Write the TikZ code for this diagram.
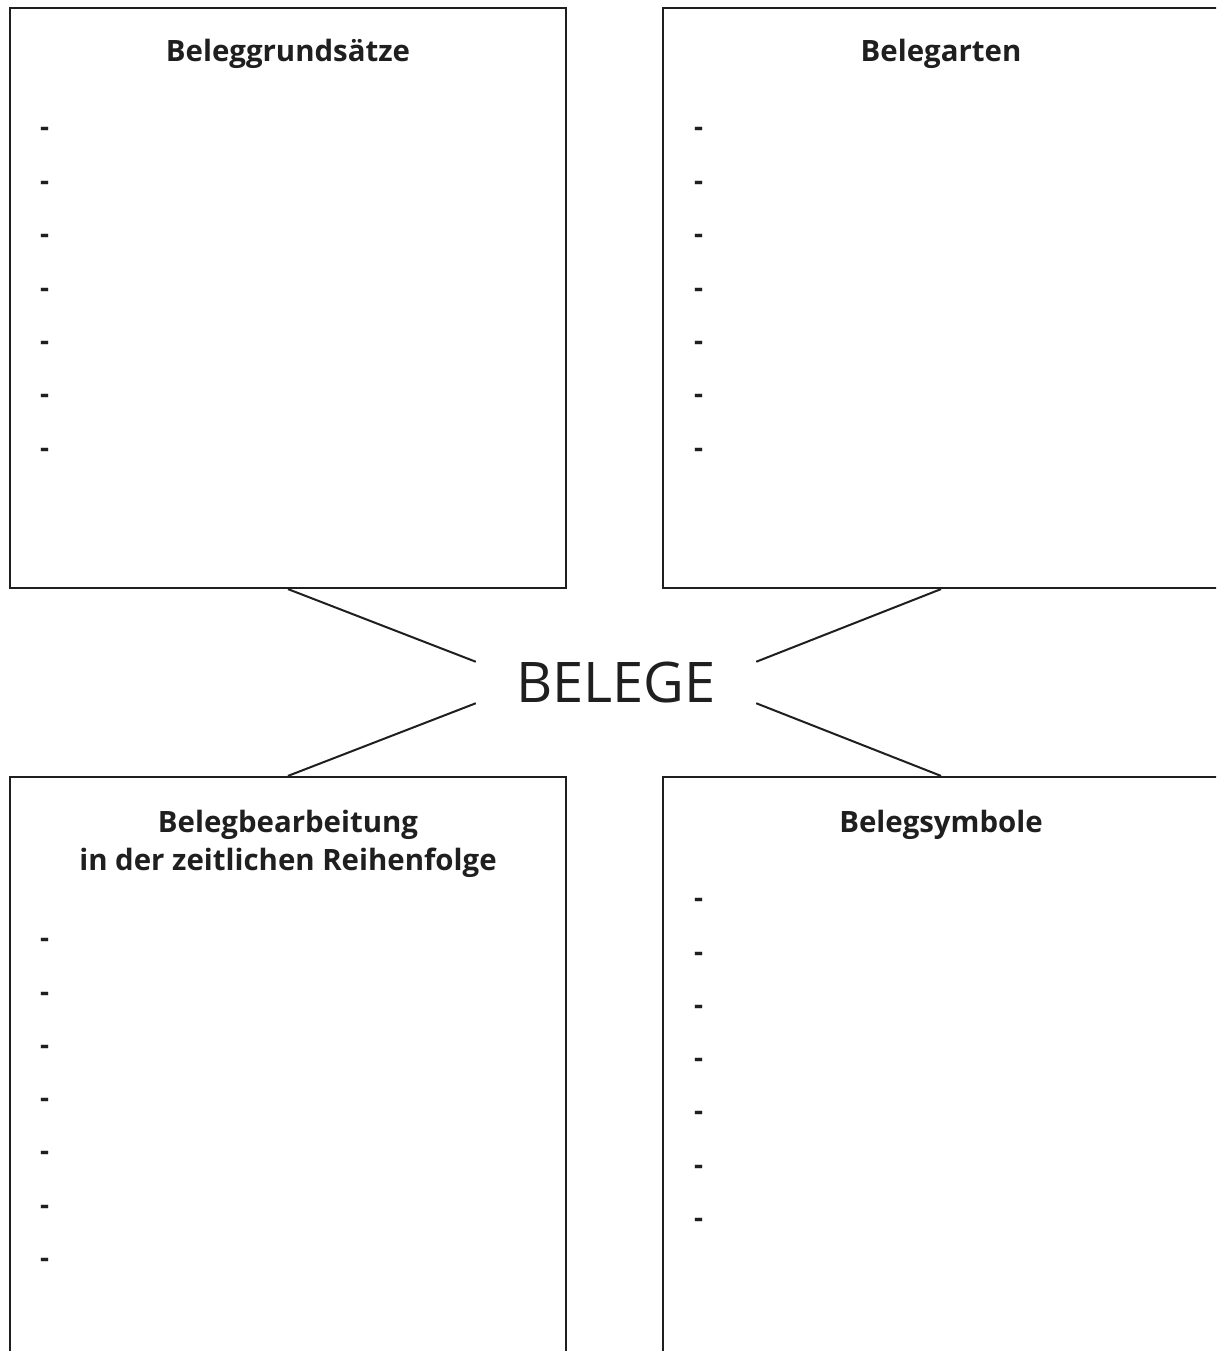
\documentclass[tikz,border=0pt]{standalone}
\usepackage{fontspec}
\setmainfont{Open Sans}
\begin{document}
\begin{tikzpicture}[x=1pt,y=-1pt,
  panel/.style={draw=black!88, line width=2.2pt, minimum width=556pt, minimum height=580pt, inner sep=0pt},
  title/.style={font=\fontsize{29.4}{38}\selectfont\bfseries, text=black!88, align=center, inner sep=0pt},
  bullet/.style={font=\fontsize{28}{34}\selectfont\bfseries, text=black!88, inner sep=0pt, anchor=base west},
  link/.style={draw=black!88, line width=2pt}]
\useasboundingbox (0,0) rectangle (1216,1351);
\clip (0,0) rectangle (1216,1351);
\node[panel] (tl) at (288,298) {};
\node[panel] (tr) at (941,298) {};
\node[panel] (bl) at (288,1067) {};
\node[panel] (br) at (941,1067) {};
\node[minimum width=280pt, minimum height=41pt, inner sep=0pt, font=\fontsize{56}{60}\selectfont, text=black!88] (c) at (616,682.5) {BELEGE};
\node[title, anchor=base] (ttl) at (288,62) {Beleggrundsätze};
\node[title, anchor=base] (ttr) at (941,62) {Belegarten};
\node[title, anchor=base] (tbl) at (288,832) {Belegbearbeitung};
\node[title, anchor=base] (tbl2) at (288,870) {in der zeitlichen Reihenfolge};
\node[title, anchor=base] (tbr) at (941,832) {Belegsymbole};
\foreach \i/\y in {1/129.7,2/183.2,3/236.5,4/290,5/343.5,6/396.8,7/450} {
  \node[bullet] (a\i) at (40,\y+7) {-};
  \node[bullet] (b\i) at (694,\y+7) {-};
}
\foreach \i/\y in {1/940.7,2/994,3/1047,4/1100.3,5/1153.7,6/1207,7/1260.3} {
  \node[bullet] (d\i) at (40,\y+7) {-};
}
\foreach \i/\y in {1/900.7,2/954,3/1007,4/1060.3,5/1113.7,6/1167,7/1220.3} {
  \node[bullet] (e\i) at (694,\y+7) {-};
}
\draw[link] (tl.south) -- (c.north west);
\draw[link] (bl.north) -- (c.south west);
\draw[link] (tr.south) -- (c.north east);
\draw[link] (br.north) -- (c.south east);
\end{tikzpicture}
\end{document}
